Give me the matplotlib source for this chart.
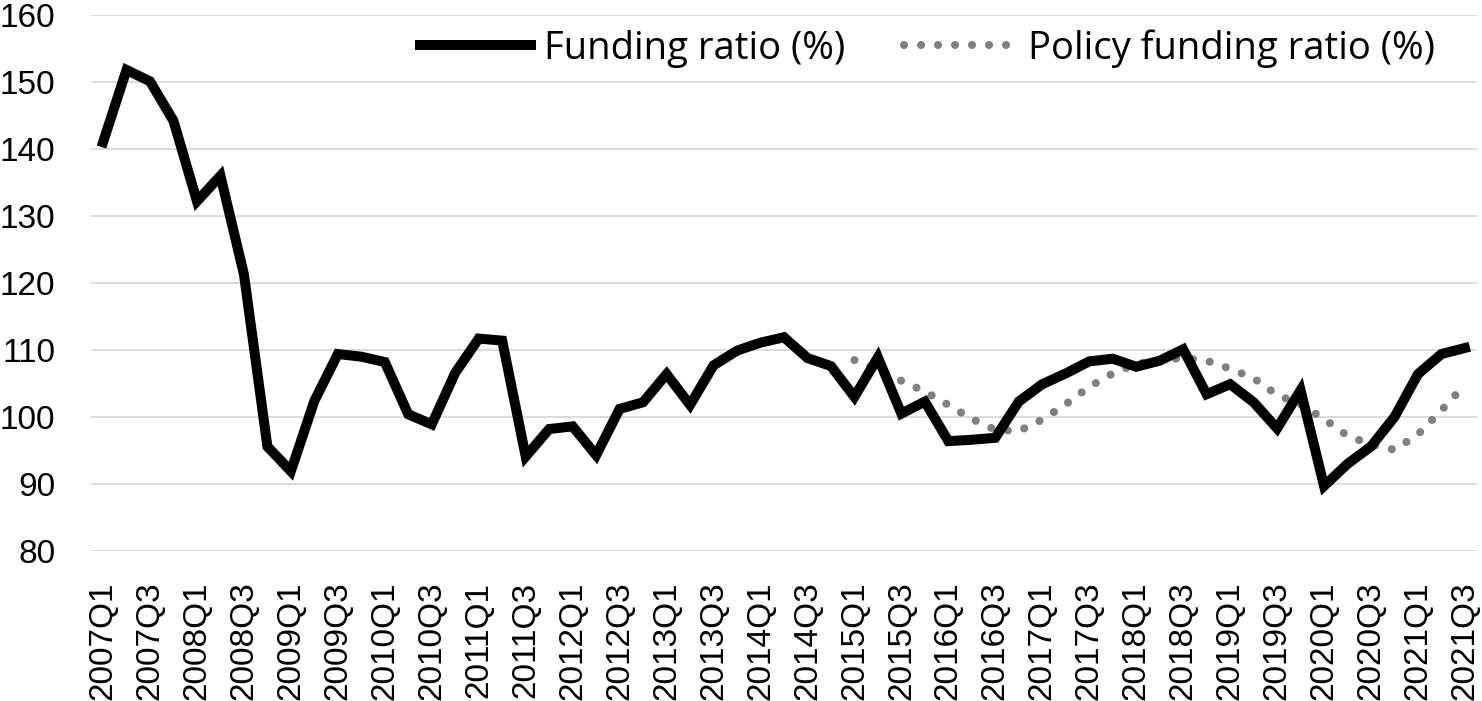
import numpy as np
import matplotlib.pyplot as plt
from matplotlib import font_manager

# quarters 2007Q1 .. 2021Q3
quarters = [f"{y}Q{q}" for y in range(2007, 2022) for q in range(1, 5)][:59]

funding_ratio = [141.0, 151.8, 150.1, 144.2, 132.2, 136.0, 121.3, 95.6, 91.9, 102.4,
                 109.4, 109.0, 108.2, 100.4, 98.9, 106.6, 111.7, 111.4, 94.1, 98.2,
                 98.6, 94.3, 101.2, 102.2, 106.4, 101.8, 107.7, 109.9, 111.1, 111.9,
                 108.8, 107.6, 103.0, 108.9, 100.5, 102.3, 96.4, 96.6, 96.9, 102.3,
                 104.9, 106.5, 108.3, 108.7, 107.5, 108.4, 110.1, 103.4, 104.9, 102.2,
                 98.3, 104.0, 89.7, 93.0, 95.6, 100.0, 106.4, 109.4, 110.3]

# policy funding ratio starts in 2015Q1 (index 32)
policy_ratio = [np.nan] * 32 + [108.5, 107.2, 105.4, 103.8, 101.8, 99.7, 98.1, 97.9, 99.6,
                                101.9, 104.5, 106.5, 107.9, 108.5, 108.8, 108.4, 107.2, 105.8,
                                103.3, 101.9, 99.7, 97.2, 95.9, 95.1, 97.4, 101.0, 104.8]

names = {f.name for f in font_manager.fontManager.ttflist}
tick_font = "Liberation Sans" if "Liberation Sans" in names else "DejaVu Sans"
leg_font = "Open Sans" if "Open Sans" in names else tick_font

x = np.arange(len(quarters))

fig = plt.figure(figsize=(14.82, 7.01), dpi=100)
ax = fig.add_axes([0.0616, 0.214, 0.9348, 0.7646])

ax.plot(x, funding_ratio, color="black", lw=7.2, solid_joinstyle="miter",
        label="Funding ratio (%)", zorder=3)
ax.plot(x, policy_ratio, color="#808080", lw=5.8, linestyle=(0, (0.01, 2.1)),
        dash_capstyle="round", label="Policy funding ratio (%)", zorder=2)

ax.set_xlim(-0.5, len(quarters) - 0.5)
ax.set_ylim(80, 160)
ax.set_yticks(range(80, 161, 10))
ax.set_xticks(x[::2])
ax.set_xticklabels(quarters[::2], rotation=90, fontsize=24, family=tick_font)
for lab in ax.get_yticklabels():
    lab.set_fontsize(24)
    lab.set_family(tick_font)
ax.tick_params(axis="both", length=0)
ax.tick_params(axis="y", pad=26)
ax.tick_params(axis="x", pad=22)

ax.grid(axis="y", color="#d9d9d9", lw=1.3)
ax.set_axisbelow(True)
for s in ax.spines.values():
    s.set_visible(False)

ax.legend(loc="center right", bbox_to_anchor=(0.970, 0.938), ncol=2, frameon=False,
          prop={"family": leg_font, "size": 27.5}, handlelength=2.9, handletextpad=0.34,
          columnspacing=1.55, borderpad=0, borderaxespad=0)

fig.savefig("out.png", dpi=100)
